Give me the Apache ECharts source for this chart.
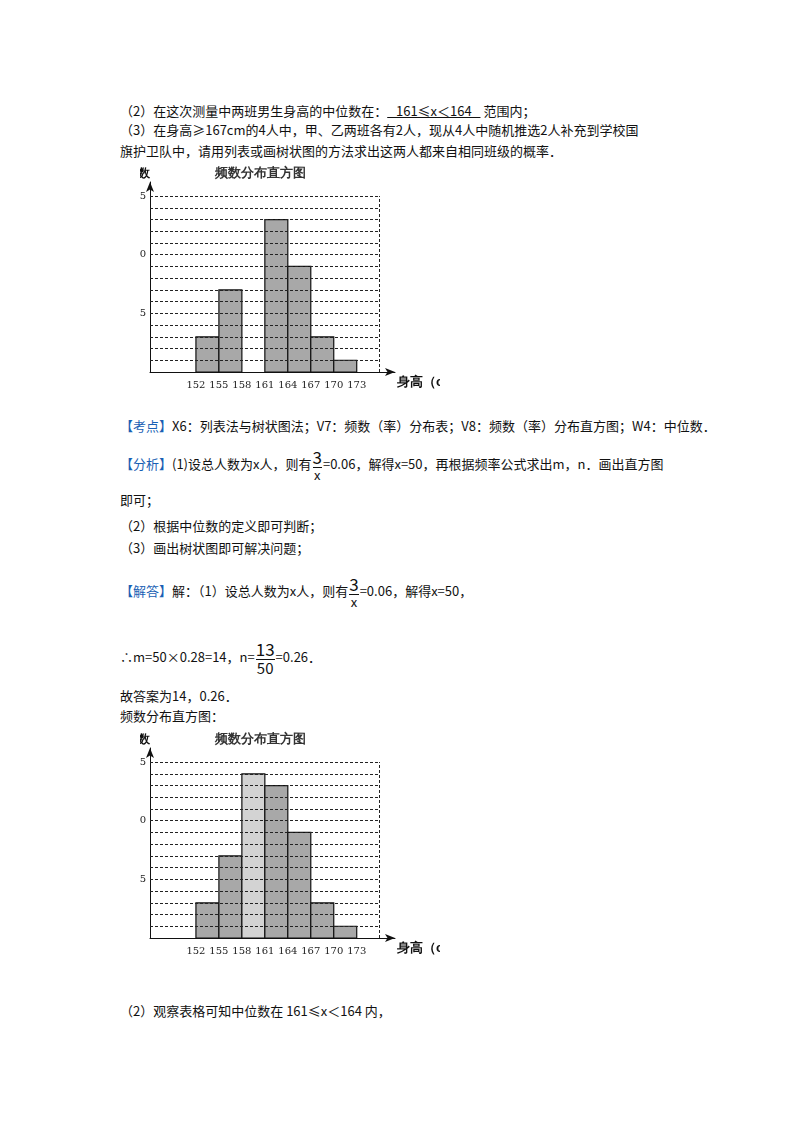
<!DOCTYPE html>
<html>
<head>
<meta charset="utf-8">
<script src="https://cdn.jsdelivr.net/npm/echarts@6/dist/echarts.min.js"></script>
<style>
body{margin:0;width:800px;height:1132px;background:#fff;position:relative;font-family:"Noto Sans CJK SC",sans-serif;font-size:13px;color:#111;}
.t{position:absolute;left:120px;white-space:nowrap;}
.b{color:#1a5fb4;}
.fr{display:inline-block;vertical-align:middle;text-align:center;line-height:1.1;margin:0 1px;}
.fr span{display:block;}
.fr .n{border-bottom:1px solid #111;font-size:17px;}
.u{text-decoration:underline;}
.ch{position:absolute;left:140px;width:300px;}
</style>
</head>
<body>
<div class="t" style="top:101px">（2）在这次测量中两班男生身高的中位数在：<span class="u">&nbsp;&nbsp;&nbsp;161≤x＜164&nbsp;&nbsp;&nbsp;</span> 范围内；</div>
<div class="t" style="top:120px">（3）在身高≥167cm的4人中，甲、乙两班各有2人，现从4人中随机推选2人补充到学校国</div>
<div class="t" style="top:141px">旗护卫队中，请用列表或画树状图的方法求出这两人都来自相同班级的概率．</div>
<div id="c1" class="ch" style="top:160px;height:240px"></div>
<div class="t" style="top:416px"><span class="b">【考点】</span>X6：列表法与树状图法；V7：频数（率）分布表；V8：频数（率）分布直方图；W4：中位数．</div>
<div class="t" style="top:448px"><span class="b">【分析】</span>(1)设总人数为x人，则有<span class="fr"><span class="n">3</span><span>x</span></span>=0.06，解得x=50，再根据频率公式求出m，n．画出直方图</div>
<div class="t" style="top:490px">即可；</div>
<div class="t" style="top:516px">（2）根据中位数的定义即可判断；</div>
<div class="t" style="top:538px">（3）画出树状图即可解决问题；</div>
<div class="t" style="top:575px"><span class="b">【解答】</span>解：（1）设总人数为x人，则有<span class="fr"><span class="n">3</span><span>x</span></span>=0.06，解得x=50，</div>
<div class="t" style="top:640px">∴m=50×0.28=14，n=<span class="fr"><span class="n">13</span><span style="font-size:15px">50</span></span>=0.26．</div>
<div class="t" style="top:686px">故答案为14，0.26．</div>
<div class="t" style="top:706px">频数分布直方图：</div>
<div id="c2" class="ch" style="top:720px;height:250px"></div>
<div class="t" style="top:1001px">（2）观察表格可知中位数在 161≤x＜164 内，</div>
<script>
// data
var binStarts = [152, 155, 158, 161, 164, 167, 170];
var binWidth = 3;
var counts1 = [3, 7, 0, 13, 9, 3, 1];
var counts2 = [3, 7, 14, 13, 9, 3, 1];
var xTicks = [152, 155, 158, 161, 164, 167, 170, 173];
var gridLevels = [1,2,3,4,5,6,7,8,9,10,11,12,13,14,15];
var chartTitle = '频数分布直方图';

function makeOption(counts, top, bottom, lightIdx) {
  var lines = gridLevels.map(function (y) {
    return [{coord: [146, y]}, {coord: [176, y]}];
  });
  lines.push([{coord: [176, 0]}, {coord: [176, 15]}]);
  return {
    animation: false,
    title: {text: chartTitle, left: 70, top: top - 34,
      textStyle: {fontSize: 13, fontWeight: 'bold', color: '#333'}},
    grid: {left: 10, right: 45, top: top - 14, bottom: bottom, outerBoundsMode: 'none', containLabel: false},
    xAxis: {
      type: 'value', min: 146, max: 178,
      name: '身高（cm）', nameLocation: 'end', nameGap: 2,
      nameTextStyle: {fontSize: 13, fontWeight: 'bold', color: '#111', verticalAlign: 'top', padding: [4, 0, 0, 0]},
      axisLine: {lineStyle: {color: '#111'}, symbol: ['none', 'arrow'], symbolSize: [6, 10]},
      axisTick: {show: false},
      splitLine: {show: false},
      axisLabel: {customValues: xTicks, fontSize: 10, color: '#222', fontFamily: 'DejaVu Serif', margin: 8}
    },
    yAxis: {
      type: 'value', min: 0, max: 16.2, interval: 5,
      name: '频数', nameLocation: 'end', nameGap: 2,
      nameTextStyle: {fontSize: 12, fontWeight: 'bold', color: '#111', align: 'right'},
      axisLine: {show: true, lineStyle: {color: '#111'}, symbol: ['none', 'arrow'], symbolSize: [6, 10]},
      axisTick: {show: false},
      splitLine: {show: false},
      axisLabel: {showMinLabel: false, showMaxLabel: false, fontSize: 10, color: '#222', margin: 4, fontFamily: 'DejaVu Serif'}
    },
    series: [{
      type: 'custom',
      data: binStarts.map(function (s, i) { return [s, s + binWidth, counts[i], i]; }),
      renderItem: function (params, api) {
        var p0 = api.coord([api.value(0), api.value(2)]);
        var p1 = api.coord([api.value(1), 0]);
        if (api.value(2) <= 0) return null;
        return {
          type: 'rect',
          shape: {x: p0[0], y: p0[1], width: p1[0] - p0[0], height: p1[1] - p0[1]},
          style: {fill: api.value(3) === lightIdx ? '#d3d3d3' : '#a8a8a8', stroke: '#111', lineWidth: 1.2}
        };
      },
      markLine: {
        silent: true, symbol: 'none', label: {show: false},
        lineStyle: {color: '#222', type: [3, 2], width: 1},
        data: lines
      },
      z: 3
    }]
  };
}

echarts.init(document.getElementById('c1')).setOption(makeOption(counts1, 36, 28, -1));
echarts.init(document.getElementById('c2')).setOption(makeOption(counts2, 42, 32, 2));
</script>
</body>
</html>
